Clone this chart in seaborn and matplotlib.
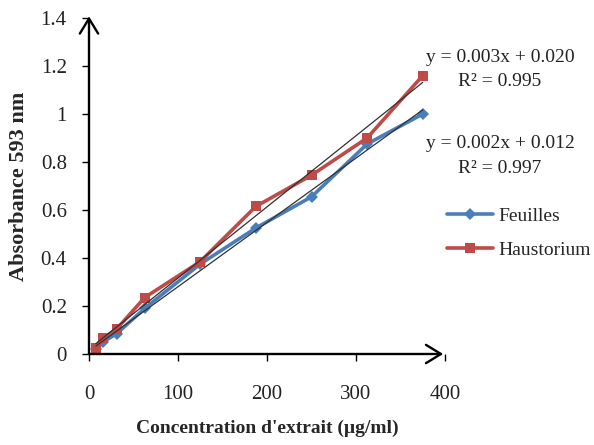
import numpy as np
import pandas as pd
import matplotlib
matplotlib.use("Agg")
import matplotlib.pyplot as plt
import seaborn as sns
from matplotlib.lines import Line2D

conc = [7.8, 15.6, 31.25, 62.5, 125, 187.5, 250, 312.5, 375]
feuilles = [0.02, 0.05, 0.085, 0.19, 0.375, 0.525, 0.655, 0.875, 1.0]
haustorium = [0.025, 0.065, 0.105, 0.235, 0.385, 0.615, 0.745, 0.90, 1.16]
series_names = ["Feuilles", "Haustorium"]
eq_texts = [("y = 0.003x + 0.020", "R² = 0.995"), ("y = 0.002x + 0.012", "R² = 0.997")]
x_ticks = [0, 100, 200, 300, 400]
y_ticks = [0, 0.2, 0.4, 0.6, 0.8, 1, 1.2, 1.4]
y_ticklabels = ["0", "0.2", "0.4", "0.6", "0.8", "1", "1.2", "1.4"]

sns.set_theme(style="white")
plt.rcParams['font.family'] = ['Liberation Serif', 'DejaVu Serif']

df = pd.DataFrame({
    "x": conc * 2,
    "y": feuilles + haustorium,
    "serie": [series_names[0]] * len(conc) + [series_names[1]] * len(conc),
})

fig = plt.figure(figsize=(5.94, 4.45), dpi=100)
ax = fig.add_axes([89/594, 1 - 354/445, (445 - 89)/594, (354 - 18)/445])

colors = {"Feuilles": "#4A7EBB", "Haustorium": "#BE4B48"}
sns.lineplot(data=df, x="x", y="y", hue="serie", style="serie",
             palette=colors, markers={"Feuilles": "D", "Haustorium": "s"},
             dashes=False, linewidth=2.6, markersize=6.5, markeredgewidth=0,
             ax=ax, legend=False, zorder=2)

# linear trend lines
xs = np.array(conc)
for vals in (feuilles, haustorium):
    a, b = np.polyfit(xs, np.array(vals), 1)
    ax.plot([xs[0], xs[-1]], [a*xs[0] + b, a*xs[-1] + b], color="#303030", lw=0.9, zorder=3)

ax.set_xlim(0, 400)
ax.set_ylim(0, 1.4)
ax.set_xticks(x_ticks)
ax.set_yticks(y_ticks)
ax.set_xticklabels([str(t) for t in x_ticks])
ax.set_yticklabels(y_ticklabels)
for s in ax.spines.values():
    s.set_visible(False)
ax.tick_params(axis="x", direction="out", length=5, width=1, color="black", pad=17, labelsize=15, labelcolor="#222222")
ax.tick_params(axis="y", direction="out", length=5, width=1, color="black", pad=11, labelsize=15, labelcolor="#222222")
ax.xaxis.set_ticks_position("bottom")
ax.yaxis.set_ticks_position("left")
ax.grid(False)

arrow_style = "->,head_length=0.9,head_width=0.55"
ax.annotate("", xy=(0.995, 0), xytext=(0, 0), xycoords="axes fraction",
            arrowprops=dict(arrowstyle=arrow_style, lw=1.7, color="black",
                            shrinkA=0, shrinkB=0), annotation_clip=False)
ax.annotate("", xy=(0, 1.005), xytext=(0, 0), xycoords="axes fraction",
            arrowprops=dict(arrowstyle=arrow_style, lw=1.7, color="black",
                            shrinkA=0, shrinkB=0), annotation_clip=False)

ax.set_xlabel("Concentration d'extrait (µg/ml)", fontsize=14, fontweight="bold")
ax.set_ylabel("Absorbance 593 nm", fontsize=16, fontweight="bold")
ax.yaxis.set_label_coords((19 - 89) / (445 - 89), 0.5)
ax.yaxis.label.set_va("center")
ax.xaxis.set_label_coords(0.5, -(428 - 354) / (354 - 18))
ax.xaxis.label.set_va("center")

# equation texts
for (eq, r2), yy in zip(eq_texts, [(57, 82), (143, 168)]):
    fig.text(500/594, 1 - yy[0]/445, eq, ha="center", va="center", fontsize=14, color="#222222")
    fig.text(500/594, 1 - yy[1]/445, r2, ha="center", va="center", fontsize=14, color="#222222")

# legend
handles = [Line2D([0], [0], color=colors["Feuilles"], lw=2.6, marker="D", markersize=6.5, markeredgewidth=0),
           Line2D([0], [0], color=colors["Haustorium"], lw=2.6, marker="s", markersize=6.5, markeredgewidth=0)]
fig.legend(handles, series_names, loc="upper left", bbox_to_anchor=(447/594, 1 - 207/445),
           frameon=False, fontsize=14, handlelength=2.35, handletextpad=0.27,
           labelspacing=0.85, borderpad=0, borderaxespad=0)

fig.savefig("out.png", dpi=100)
